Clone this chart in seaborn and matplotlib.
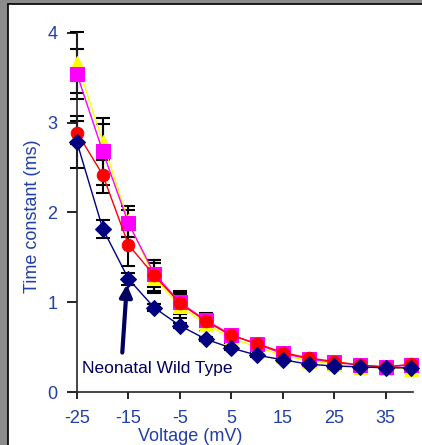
import seaborn as sns
from matplotlib import pyplot as plt
from matplotlib.patches import Rectangle

# time constants (ms) vs voltage (mV)
voltage = [-25, -20, -15, -10, -5, 0, 5, 10, 15, 20, 25, 30, 35, 40]

yellow_tau = [3.67, 2.79, 1.90, 1.27, 0.96, 0.76, 0.60, 0.50, 0.41, 0.35, 0.31, 0.28, 0.27, 0.26]
yellow_err = [0.34, 0.20, 0.17, 0.17, 0.13, 0.08, 0.05, 0.04, 0.03, 0.02, 0.02, 0.02, 0.02, 0.02]

magenta_tau = [3.54, 2.68, 1.88, 1.32, 1.00, 0.80, 0.64, 0.53, 0.43, 0.37, 0.33, 0.30, 0.28, 0.30]
magenta_err = [0.28, 0.37, 0.15, 0.15, 0.13, 0.08, 0.05, 0.04, 0.03, 0.02, 0.02, 0.02, 0.02, 0.02]

red_tau = [2.89, 2.42, 1.64, 1.30, 0.99, 0.79, 0.63, 0.54, 0.44, 0.38, 0.34, 0.30, 0.28, 0.31]
red_err = [0.13, 0.20, 0.24, 0.17, 0.12, 0.07, 0.05, 0.04, 0.03, 0.02, 0.02, 0.02, 0.02, 0.02]

wt_tau = [2.78, 1.82, 1.26, 0.94, 0.74, 0.59, 0.49, 0.41, 0.36, 0.31, 0.29, 0.28, 0.27, 0.27]
wt_err = [0.29, 0.10, 0.07, 0.04, 0.03, 0.02, 0.02, 0.02, 0.02, 0.02, 0.02, 0.02, 0.02, 0.02]

series = [
    (yellow_tau, yellow_err, '#FFFF00', '^', 10),
    (magenta_tau, magenta_err, '#FF00FF', 's', 10),
    (red_tau, red_err, '#FF0000', 'o', 9),
    (wt_tau, wt_err, '#000080', 'D', 8),
]

sns.set_style('ticks')
plt.rcParams['font.family'] = ['Liberation Sans', 'DejaVu Sans']
plt.rcParams['axes.unicode_minus'] = False

blue_txt = '#2040A8'

fig = plt.figure(figsize=(4.22, 4.45), dpi=100)
ax = fig.add_axes([0.1825, 0.119, 0.796, 0.807])

for tau, err, col, mk, ms in series:
    ax.errorbar(voltage, tau, yerr=err, fmt='none', ecolor='black',
                elinewidth=1.5, capsize=5, capthick=1.5, zorder=1, clip_on=False)
for tau, err, col, mk, ms in series:
    sns.lineplot(x=voltage, y=tau, color=col, marker=mk, markersize=ms,
                 markeredgecolor=col, linewidth=1.0, ax=ax, zorder=3, clip_on=False)

ax.set_xlim(-25, 40.3)
ax.set_ylim(0, 4)
ax.set_xticks(range(-25, 36, 10))
ax.set_yticks(range(0, 5))
sns.despine(ax=ax)
for sp in ['left', 'bottom']:
    ax.spines[sp].set_linewidth(1.2)
ax.tick_params(axis='both', colors='black', labelcolor=blue_txt,
               labelsize=13, width=1.2)
ax.tick_params(axis='y', length=7, pad=7)
ax.tick_params(axis='x', length=5, pad=8)

ax.set_xlabel('Voltage (mV)', color=blue_txt, fontsize=13)
ax.set_ylabel('Time constant (ms)', color=blue_txt, fontsize=13)
ax.xaxis.set_label_coords(0.336, -0.1)
ax.yaxis.set_label_coords(-0.108, 0.49)

ax.annotate('', xy=(-15.3, 1.2), xytext=(-16.2, 0.44),
            arrowprops=dict(arrowstyle='-|>', lw=3, color='#000060',
                            mutation_scale=18, shrinkA=0, shrinkB=0))
ax.text(-24.1, 0.26, 'Neonatal Wild Type', color='#000060', fontsize=12.5,
        va='center', ha='left')

# window frame
fig.patches.append(Rectangle((0, 0), 7 / 422, 1, transform=fig.transFigure,
                             color='#8C8C8C', zorder=0))
fig.patches.append(Rectangle((0, 1 - 3 / 445), 1, 3 / 445, transform=fig.transFigure,
                             color='#8C8C8C', zorder=0))
fig.add_artist(plt.Line2D([7.5 / 422, 7.5 / 422], [0, 1 - 4 / 445], color='black',
                          lw=1.2, transform=fig.transFigure))
fig.add_artist(plt.Line2D([7.5 / 422, 1], [1 - 4 / 445, 1 - 4 / 445], color='black',
                          lw=1.2, transform=fig.transFigure))

fig.savefig('out.png', dpi=100)
